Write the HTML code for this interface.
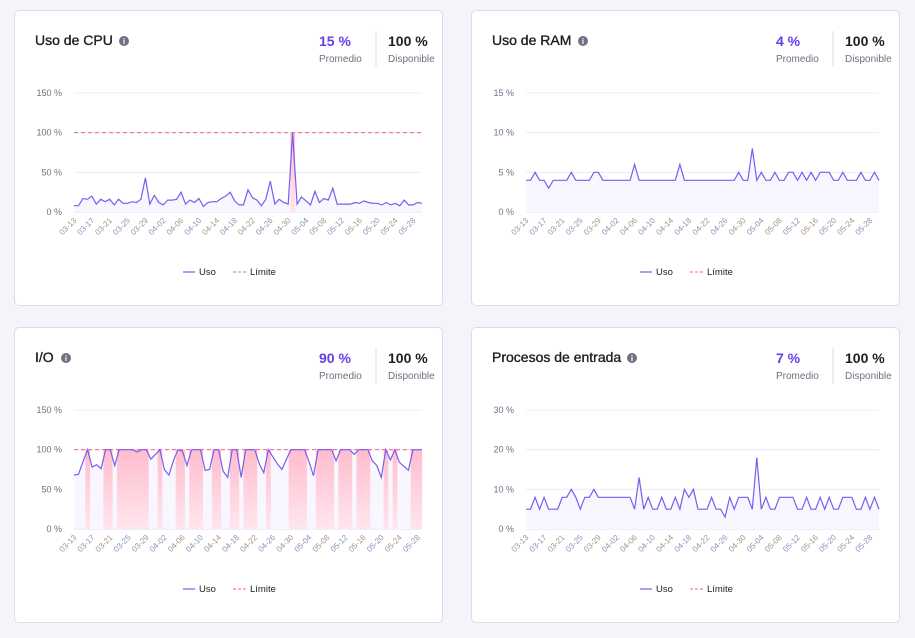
<!DOCTYPE html>
<html><head><meta charset="utf-8"><style>
body{margin:0;width:915px;height:638px;background:#f4f4fb;font-family:"Liberation Sans",sans-serif;position:relative;overflow:hidden}
.card{position:absolute;width:429px;height:296px;background:#fff;border:1px solid #dcdce6;border-radius:5px;box-sizing:border-box}
svg{position:absolute;left:0;top:0}
</style></head><body>
<div class="card" style="left:14px;top:10px"><svg id="c0" width="430" height="297"></svg></div>
<div class="card" style="left:471px;top:10px"><svg id="c1" width="430" height="297"></svg></div>
<div class="card" style="left:14px;top:327px"><svg id="c2" width="430" height="297"></svg></div>
<div class="card" style="left:471px;top:327px"><svg id="c3" width="430" height="297"></svg></div>
<script>
const cfg=[
{t:"Uso de CPU",ix:109,p:"15 %",max:150,x0:59,ticks:["0 %","50 %","100 %","150 %"],lim:100,
d:[8,8,17,16,20,10,16,13,16,9,16,11,11,13,12,16,43,10,21,12,9,15,15,16,25,10,15,12,17,7,12,13,13,17,20,25,14,9,9,28,18,15,8,16,39,10,16,12,10,100,10,19,14,9,26,12,17,15,30,10,10,10,10,12,11,14,12,11,11,9,12,9,11,8,15,9,9,12,11]},
{t:"Uso de RAM",ix:111,p:"4 %",max:15,x0:54,ticks:["0 %","5 %","10 %","15 %"],lim:null,
d:[4,4,5,4,4,3,4,4,4,4,5,4,4,4,4,5,5,4,4,4,4,4,4,4,6,4,4,4,4,4,4,4,4,4,6,4,4,4,4,4,4,4,4,4,4,4,4,5,4,4,8,4,5,4,4,5,4,4,5,5,4,5,4,5,4,5,5,5,4,4,5,4,4,4,5,4,4,5,4]},
{t:"I/O",ix:51,p:"90 %",max:150,x0:59,ticks:["0 %","50 %","100 %","150 %"],lim:100,
d:[68,69,85,100,78,81,76,100,100,80,100,100,100,100,97,100,100,88,94,100,75,68,86,100,98,80,100,100,100,74,75,100,100,73,65,100,100,65,100,100,100,82,71,100,91,82,75,88,100,100,100,100,85,67,100,100,100,100,86,100,100,100,94,100,100,100,86,80,65,100,87,100,84,79,74,100,100,100]},
{t:"Procesos de entrada",ix:160,p:"7 %",max:30,x0:54,ticks:["0 %","10 %","20 %","30 %"],lim:null,
d:[5,5,8,5,8,5,5,5,8,8,10,8,5,8,8,10,8,8,8,8,8,8,8,8,5,13,5,8,5,5,8,5,5,8,5,10,8,10,5,5,5,8,5,5,3,8,5,8,8,8,5,18,5,8,5,5,8,8,8,8,5,5,8,5,5,8,5,8,5,5,8,8,8,5,5,8,5,8,5]}
];
const labs=["03-13","03-17","03-21","03-25","03-29","04-02","04-06","04-10","04-14","04-18","04-22","04-26","04-30","05-04","05-08","05-12","05-16","05-20","05-24","05-28"];
cfg.forEach((c,k)=>{
 const x1=407,yt=82,yb=201,n=c.d.length,sx=(x1-c.x0)/(n-1);
 const X=i=>c.x0+i*sx,Y=v=>yb-v/c.max*(yb-yt);
 let s=`<defs><linearGradient id="g${k}" x1="0" y1="0" x2="0" y2="1"><stop offset="0" stop-color="#ffbccd"/><stop offset="1" stop-color="#ffe6ee"/></linearGradient></defs>`;
 s+=`<text x="20" y="34" font-size="14" fill="#1d1e20" stroke="#1d1e20" stroke-width="0.35">${c.t}</text>`;
 s+=`<circle cx="${c.ix}" cy="30" r="5" fill="#707080"/><text x="${c.ix}" y="33" font-size="8" fill="#fff" text-anchor="middle" font-weight="bold">i</text>`;
 s+=`<text x="304" y="35" font-size="14" font-weight="bold" fill="#673de6">${c.p}</text><text x="304" y="51" font-size="10" fill="#6d7081">Promedio</text>`;
 s+=`<line x1="361" y1="20" x2="361" y2="56" stroke="#dcdce6"/><text x="373" y="35" font-size="14" font-weight="bold" fill="#1d1e20">100 %</text><text x="373" y="51" font-size="10" fill="#6d7081">Disponible</text>`;
 for(let j=0;j<4;j++){const y=yb-j*(yb-yt)/3;s+=`<line x1="${c.x0}" x2="${x1}" y1="${y}" y2="${y}" stroke="${j?'#ececf2':'#dcdcf0'}"/><text x="${c.x0-12}" y="${y+3}" font-size="9" fill="#707085" text-anchor="end">${c.ticks[j]}</text>`;}
 let pts=c.d.map((v,i)=>X(i).toFixed(1)+","+Y(v).toFixed(1)).join(" ");
 s+=`<polygon points="${X(0)},${yb} ${pts} ${X(n-1)},${yb}" fill="#f8f6fe"/>`;
 if(c.lim){for(let i=0;i<n;i++){if(c.d[i]>=95){const a=Math.max(c.x0,X(i)-sx/2),b=Math.min(x1,X(i)+sx/2);s+=`<rect x="${a}" y="${Y(100)}" width="${b-a+0.2}" height="${yb-Y(100)}" fill="url(#g${k})"/>`;}}
  s+=`<line x1="${c.x0}" x2="${x1}" y1="${Y(100)}" y2="${Y(100)}" stroke="#f06292" stroke-dasharray="4,3" stroke-width="1"/>`;}
 s+=`<polyline points="${pts}" fill="none" stroke="#7b5cf0" stroke-width="1.2"/>`;
 labs.forEach((l,j)=>{const x=X(j*4)+3,y=yb+9;s+=`<text x="${x}" y="${y}" font-size="8" fill="${j%2?'#8595b8':'#a89282'}" text-anchor="end" transform="rotate(-45 ${x} ${y})">${l}</text>`;});
 s+=`<line x1="168" x2="180" y1="261" y2="261" stroke="#7b5cf0" stroke-width="1.2"/><text x="184" y="264" font-size="9.5" fill="#1d1e20">Uso</text>`;
 s+=`<line x1="218" x2="231" y1="261" y2="261" stroke="#f06292" stroke-dasharray="3,2"/><text x="235" y="264" font-size="9.5" fill="#1d1e20">Límite</text>`;
 document.getElementById("c"+k).innerHTML=s;
});
</script>
</body></html>
